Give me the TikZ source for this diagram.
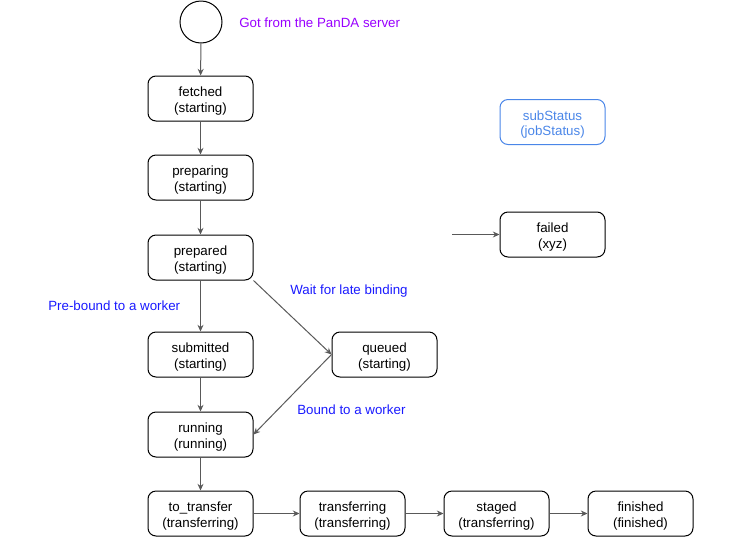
\documentclass[tikz,border=0pt]{standalone}
\usepackage{fontspec}
\setmainfont{Liberation Sans}
\usetikzlibrary{arrows.meta}
\definecolor{edgegray}{HTML}{595959}
\definecolor{notepurple}{HTML}{9900FF}
\definecolor{noteblue}{HTML}{1A1AFF}
\definecolor{keyblue}{HTML}{4A86E8}
\begin{document}
\begin{tikzpicture}[x=0.75pt,y=-0.75pt,>={Stealth[length=5pt,width=4.5pt]},
	state/.style={draw=black,line width=0.75pt,rounded corners=6pt,minimum width=78.75pt,minimum height=33.75pt,align=center,inner sep=1pt,text height=22.5pt,text depth=2pt,font=\fontsize{10}{11.6}\selectfont},
	flow/.style={->,draw=edgegray,line width=0.75pt},
	note/.style={anchor=west,inner sep=0pt,font=\fontsize{10}{12}\selectfont}]
	\useasboundingbox (0,0) rectangle (747,540);
	\node[draw=black,line width=0.75pt,circle,minimum size=31.5pt,inner sep=0pt] (start) at (201,22) {};
	\node[note,text=notepurple] (got) at (239,22.5) {Got from the PanDA server};
	\node[state] (fetched) at (200.5,98.5) {fetched\\(starting)};
	\node[state] (preparing) at (200.5,177.5) {preparing\\(starting)};
	\node[state] (prepared) at (200.5,257.5) {prepared\\(starting)};
	\node[state] (submitted) at (200.5,354.5) {submitted\\(starting)};
	\node[state] (running) at (200.5,434.5) {running\\(running)};
	\node[state] (queued) at (384.5,354.5) {queued\\(starting)};
	\node[state] (totransfer) at (200.5,513.5) {to\_transfer\\(transferring)};
	\node[state] (transferring) at (352.5,513.5) {transferring\\(transferring)};
	\node[state] (staged) at (496.5,513.5) {staged\\(transferring)};
	\node[state] (finished) at (640.5,513.5) {finished\\(finished)};
	\node[state,draw=keyblue,text=keyblue] (substatus) at (552.5,122) {subStatus\\(jobStatus)};
	\node[state] (failed) at (552.5,234.5) {failed\\(xyz)};
	\coordinate (failin) at (452,234.5);
	% notes
	\node[note,text=noteblue] (late) at (290,291) {Wait for late binding};
	\node[note,text=noteblue] (prebound) at (48,306) {Pre-bound to a worker};
	\node[note,text=noteblue] (bound) at (297,410) {Bound to a worker};
	% transitions
	\draw[flow] (start) -- (fetched);
	\draw[flow] (fetched) -- (preparing);
	\draw[flow] (preparing) -- (prepared);
	\draw[flow] (prepared) -- (submitted);
	\draw[flow] (submitted) -- (running);
	\draw[flow] (running) -- (totransfer);
	\draw[flow] (prepared.south east) -- (queued.west);
	\draw[flow] (queued.west) -- (running.east);
	\draw[flow] (totransfer) -- (transferring);
	\draw[flow] (transferring) -- (staged);
	\draw[flow] (staged) -- (finished);
	\draw[flow] (failin) -- (failed);
\end{tikzpicture}
\end{document}
